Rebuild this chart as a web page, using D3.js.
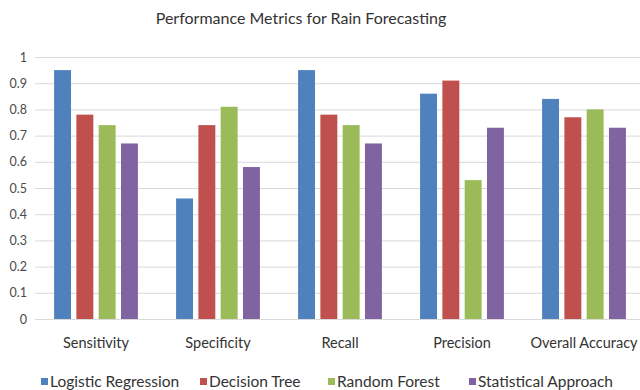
<!DOCTYPE html>
<html>
<head>
<meta charset="utf-8">
<script src="https://cdn.jsdelivr.net/npm/d3@7"></script>
<style>
  html, body { margin: 0; padding: 0; background: #fff; }
  svg { display: block; font-family: Lato, "Open Sans", sans-serif; }
</style>
</head>
<body>
<svg id="chart" width="640" height="390"></svg>
<script>
// Metric categories along the x axis
const categories = ["Sensitivity", "Specificity", "Recall", "Precision", "Overall Accuracy"];
// Forecasting approaches (one bar per approach within each category)
const seriesNames = ["Logistic Regression", "Decision Tree", "Random Forest", "Statistical Approach"];
// Score of each approach for each metric, in category order
const logisticRegression = [0.95, 0.46, 0.95, 0.86, 0.84];
const decisionTree       = [0.78, 0.74, 0.78, 0.91, 0.77];
const randomForest       = [0.74, 0.81, 0.74, 0.53, 0.80];
const statisticalApproach = [0.67, 0.58, 0.67, 0.73, 0.73];
// Y axis tick labels
const yTicks = [0, 0.1, 0.2, 0.3, 0.4, 0.5, 0.6, 0.7, 0.8, 0.9, 1];

const seriesValues = [logisticRegression, decisionTree, randomForest, statisticalApproach];
const colors = ["#4f81bd", "#c0504d", "#9bbb59", "#8064a2"];

const svg = d3.select("#chart");

const plot = { left: 35, right: 645, top: 57, bottom: 319 };

const y = d3.scaleLinear().domain([0, 1]).range([plot.bottom, plot.top]);
const x0 = d3.scaleBand().domain(categories).range([plot.left, plot.right]).padding(0);
const groupWidth = 89.2;
const x1 = d3.scaleBand().domain(seriesNames).range([0, groupWidth])
  .paddingInner(0.24).paddingOuter(0.12);

// Title
svg.append("text")
  .attr("x", 301).attr("y", 24)
  .attr("text-anchor", "middle")
  .attr("font-size", 16)
  .attr("fill", "#333")
  .text("Performance Metrics for Rain Forecasting");

// Horizontal gridlines + y tick labels
const yAxis = d3.axisLeft(y).tickValues(yTicks)
  .tickSize(-(plot.right - plot.left))
  .tickPadding(8)
  .tickFormat(d3.format("~g"));
const gy = svg.append("g")
  .attr("transform", `translate(${plot.left},0)`)
  .call(yAxis);
gy.select(".domain").remove();
gy.selectAll(".tick line").attr("stroke", "#d9d9d9").attr("stroke-width", 1);
gy.selectAll(".tick text")
  .attr("fill", "#4a4a4a")
  .attr("font-size", 12.5)
  .attr("font-family", "Lato, 'Open Sans', sans-serif");

// Bars
const rows = categories.map((c, i) => ({
  category: c,
  values: seriesNames.map((s, j) => ({ series: s, value: seriesValues[j][i], color: colors[j] }))
}));

const groups = svg.append("g").selectAll("g")
  .data(rows).join("g")
  .attr("transform", d => `translate(${x0(d.category) + x0.bandwidth() / 2 - groupWidth / 2},0)`);

groups.selectAll("rect")
  .data(d => d.values).join("rect")
  .attr("x", d => x1(d.series))
  .attr("width", x1.bandwidth())
  .attr("y", d => y(d.value))
  .attr("height", d => y(0) - y(d.value))
  .attr("fill", d => d.color);

// Category labels
const xAxis = d3.axisBottom(x0).tickSize(0).tickPadding(19);
const gx = svg.append("g")
  .attr("transform", `translate(0,${plot.bottom})`)
  .call(xAxis);
gx.select(".domain").remove();
gx.selectAll(".tick text")
  .attr("fill", "#333")
  .attr("font-size", 14.5)
  .attr("font-family", "Lato, 'Open Sans', sans-serif");

// Legend
const legendStarts = [41, 200, 328, 469];
const legend = svg.append("g");
seriesNames.forEach((name, i) => {
  const g = legend.append("g").attr("transform", `translate(${legendStarts[i]},0)`);
  g.append("rect")
    .attr("x", 0).attr("y", 378)
    .attr("width", 7).attr("height", 7)
    .attr("fill", colors[i]);
  g.append("text")
    .attr("x", 9).attr("y", 387)
    .attr("font-size", 15.5)
    .attr("fill", "#333")
    .text(name);
});
</script>
</body>
</html>
